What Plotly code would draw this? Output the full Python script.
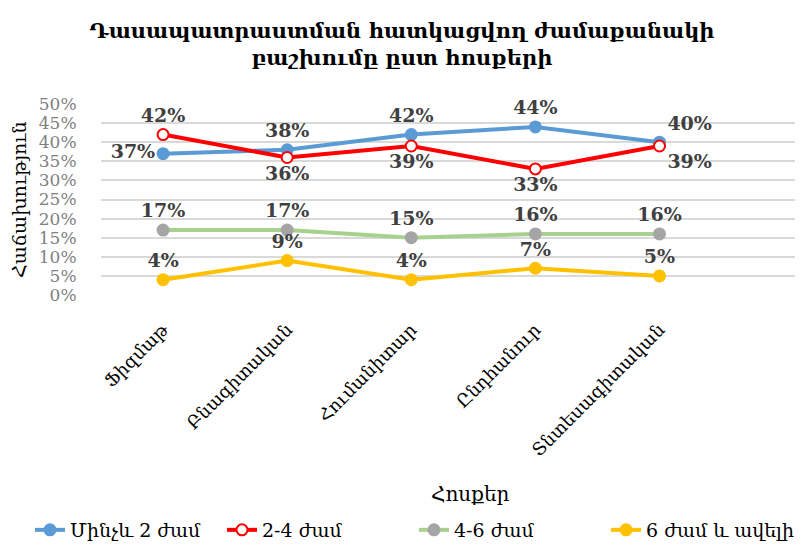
import plotly.graph_objects as go

categories = ["Ֆիզմաթ", "Բնագիտական", "Հումանիտար", "Ընդհանուր", "Տնտեսագիտական"]
series_names = ["Մինչև 2 ժամ", "2-4 ժամ", "4-6 ժամ", "6 ժամ և ավելի"]
s1 = [0.37, 0.38, 0.42, 0.44, 0.40]
s2 = [0.42, 0.36, 0.39, 0.33, 0.39]
s3 = [0.17, 0.17, 0.15, 0.16, 0.16]
s4 = [0.04, 0.09, 0.04, 0.07, 0.05]
y_ticks = [0, 0.05, 0.10, 0.15, 0.20, 0.25, 0.30, 0.35, 0.40, 0.45, 0.50]

FONT = "DejaVu Serif"
lblfont = dict(family=FONT, size=19, color="#404040")

OFF = 8  # page body margin offset
W, H = 803 - OFF, 548 - OFF
L, T = 101 - OFF, 104 - OFF
R = W - (801 - OFF)
B = H - (295 - OFF)
PH = H - T - B
PW = W - L - R

fig = go.Figure()
x = list(range(len(categories)))

def add(vals, name, lcolor, mcolor, mfill, positions):
    fig.add_trace(go.Scatter(
        x=x, y=vals, name=name, mode="lines+markers+text",
        line=dict(color=lcolor, width=4),
        marker=dict(size=11, color=mfill, line=dict(color=mcolor, width=2)),
        text=[f"<b>{round(v*100)}%</b>" for v in vals],
        textposition=positions,
        textfont=lblfont,
        cliponaxis=False,
    ))

add(s1, series_names[0], "#5B9BD5", "#5B9BD5", "#5B9BD5",
    ["middle left", "top center", "top center", "top center", "top right"])
add(s2, series_names[1], "#FF0000", "#FF0000", "#FFFFFF",
    ["top center", "bottom center", "bottom center", "bottom center", "bottom right"])
add(s3, series_names[2], "#A9D18E", "#A5A5A5", "#A5A5A5", "top center")
add(s4, series_names[3], "#FFC000", "#FFC000", "#FFC000", "top center")

def py(ref_y):
    return (H - B - (ref_y - OFF)) / PH

def pxx(ref_x):
    return ((ref_x - OFF) - L) / PW

fig.update_layout(
    width=W, height=H,
    paper_bgcolor="white", plot_bgcolor="white",
    margin=dict(l=L, r=R, t=T, b=B, autoexpand=False),
    title=dict(text="<b>Դասապատրաստման հատկացվող ժամաքանակի<br>բաշխումը ըստ հոսքերի</b>",
               x=pxx(402), xref="paper", xanchor="center", yref="container",
               y=1 - (38 - OFF) / H, yanchor="middle",
               font=dict(family=FONT, size=21, color="#000000")),
    font=dict(family=FONT),
    showlegend=True,
    legend=dict(orientation="h", x=pxx(30), xanchor="left", y=py(530), yanchor="middle",
                font=dict(family=FONT, size=19, color="#000000"),
                entrywidth=147, entrywidthmode="pixels",
                traceorder="normal"),
    xaxis=dict(
        tickmode="array", tickvals=x, ticktext=categories,
        range=[-0.5, 5.14], tickangle=-45, automargin=False,
        tickfont=dict(family=FONT, size=18, color="#000000"),
        showgrid=False, zeroline=False, showline=False,
        ticks="outside", ticklen=16, tickcolor="rgba(0,0,0,0)",
    ),
    yaxis=dict(
        range=[0, 0.5], tickvals=y_ticks, tickformat=".0%", automargin=False,
        tickfont=dict(family=FONT, size=17, color="#7F7F7F"),
        showgrid=True, gridcolor="#D9D9D9", gridwidth=1.5, zeroline=False,
        ticks="outside", ticklen=20, tickcolor="rgba(0,0,0,0)",
    ),
    annotations=[
        dict(text="Հոսքեր", xref="paper", yref="paper", x=pxx(470), y=py(494),
             xanchor="center", yanchor="middle", showarrow=False,
             font=dict(family=FONT, size=20, color="#000000")),
        dict(text="Հաճախություն", xref="paper", yref="paper", x=pxx(19), y=py(200),
             xanchor="center", yanchor="middle", showarrow=False, textangle=-90,
             font=dict(family=FONT, size=19, color="#000000")),
    ],
)

fig.write_html("out.html")
